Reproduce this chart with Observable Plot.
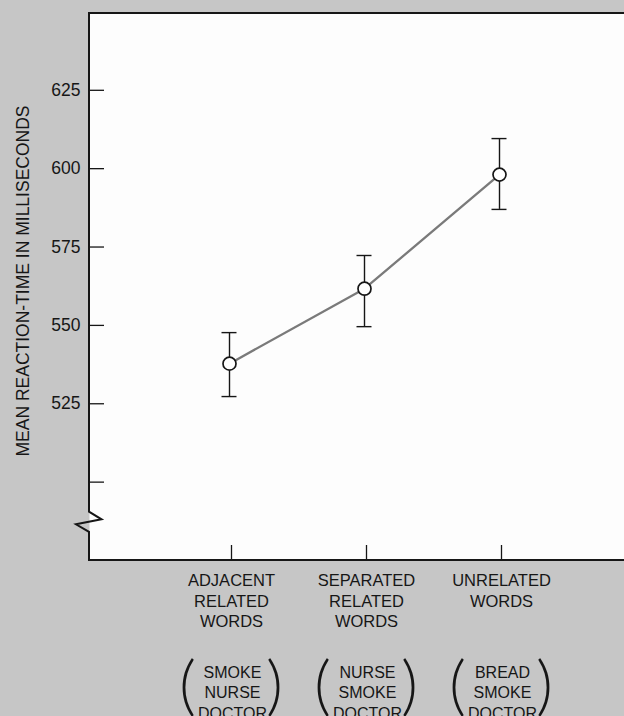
<!DOCTYPE html>
<html><head><meta charset="utf-8">
<script src="https://cdn.jsdelivr.net/npm/d3@7"></script>
<script src="https://cdn.jsdelivr.net/npm/@observablehq/plot@0.6"></script>
<style>
html,body{margin:0;padding:0;background:#c6c6c6;overflow:hidden}
#chart{width:624px;overflow:hidden}
</style></head><body><div id="chart"></div>
<script>
const conditions = ["ADJACENT\nRELATED\nWORDS", "SEPARATED\nRELATED\nWORDS", "UNRELATED\nWORDS"];
const meanRT = [537.8, 561.7, 598.1];
const rtLow = [527.3, 549.6, 587.0];
const rtHigh = [547.7, 572.3, 609.6];
const wordSets = ["SMOKE\nNURSE\nDOCTOR", "NURSE\nSMOKE\nDOCTOR", "BREAD\nSMOKE\nDOCTOR"];
const yTicks = [500, 525, 550, 575, 600, 625];
const yTickLabels = ["", "525", "550", "575", "600", "625"];
const yTitle = "MEAN REACTION-TIME IN MILLISECONDS";

const data = conditions.map((c, i) => ({condition: c, rt: meanRT[i], lo: rtLow[i], hi: rtHigh[i], words: wordSets[i]}));

const font = "'Liberation Sans', Arial, sans-serif";
const parenFont = "Lato, Roboto, 'DejaVu Sans', sans-serif";
const ink = "#161616";
// the white panel runs off the right edge of the 624px picture
const chart = Plot.plot({
  width: 644, height: 716,
  marginTop: 13, marginRight: 0, marginBottom: 156, marginLeft: 89,
  style: {background: "#c6c6c6", fontFamily: font, color: ink, overflow: "hidden", maxWidth: "none"},
  x: {type: "point", domain: conditions, padding: 1.051, align: 0.4898, axis: null},
  y: {domain: [475, 649.5], axis: null},
  marks: [
    Plot.frame({fill: "#fdfdfd", stroke: "none"}),
    Plot.axisY(yTicks, {tickSize: -15, tickPadding: 24, strokeWidth: 1.3, fontSize: 17.5, label: null,
      tickFormat: d => yTickLabels[yTicks.indexOf(d)]}),
    Plot.axisX(conditions, {tickSize: -15, tickPadding: 26, strokeWidth: 1.3, fontSize: 16.5, lineHeight: 1.25, dx: 2, label: null}),
    Plot.text([yTitle], {frameAnchor: "left", textAnchor: "middle", lineAnchor: "middle", rotate: -90, dx: -66, dy: -6, fontSize: 17.5, fill: ink}),
    Plot.text(data, {x: "condition", text: "words", frameAnchor: "bottom", lineAnchor: "top", dy: 103, dx: 3, fontSize: 16, lineHeight: 1.27, fill: ink}),
    Plot.text(data, {x: "condition", text: () => "(", frameAnchor: "bottom", lineAnchor: "top", dy: 101, dx: -42, fontSize: 66, fontFamily: parenFont, fontWeight: 300, fill: ink}),
    Plot.text(data, {x: "condition", text: () => ")", frameAnchor: "bottom", lineAnchor: "top", dy: 101, dx: 45, fontSize: 66, fontFamily: parenFont, fontWeight: 300, fill: ink}),
    Plot.ruleX(data, {x: "condition", y1: "lo", y2: "hi", stroke: ink, strokeWidth: 1.4}),
    Plot.ruleY(data, {x1: "condition", x2: "condition", y: "lo", insetLeft: -7.5, insetRight: -7.5, stroke: ink, strokeWidth: 1.4}),
    Plot.ruleY(data, {x1: "condition", x2: "condition", y: "hi", insetLeft: -7.5, insetRight: -7.5, stroke: ink, strokeWidth: 1.4}),
    Plot.line(data, {x: "condition", y: "rt", stroke: "#7a7a7a", strokeWidth: 2.3}),
    Plot.dot(data, {x: "condition", y: "rt", r: 6.5, fill: "white", stroke: ink, strokeWidth: 1.7})
  ]
});
document.getElementById("chart").append(chart);

// panel border (top, left with axis break, bottom); right side open
const yS = chart.scale("y");
const L = 89, T = 13, B = 560, R = 660;
const b1 = yS.apply(490.4), b2 = yS.apply(484);
d3.select(chart).append("path")
  .attr("fill", "none").attr("stroke", ink).attr("stroke-width", 2).attr("stroke-linejoin", "miter")
  .attr("d", `M${R},${T}H${L}V${b1}L${L + 12.5},${b1 + 7.6}L${L - 13},${b1 + 12.6}L${L},${b2}V${B}H${R}`);
</script></body></html>
